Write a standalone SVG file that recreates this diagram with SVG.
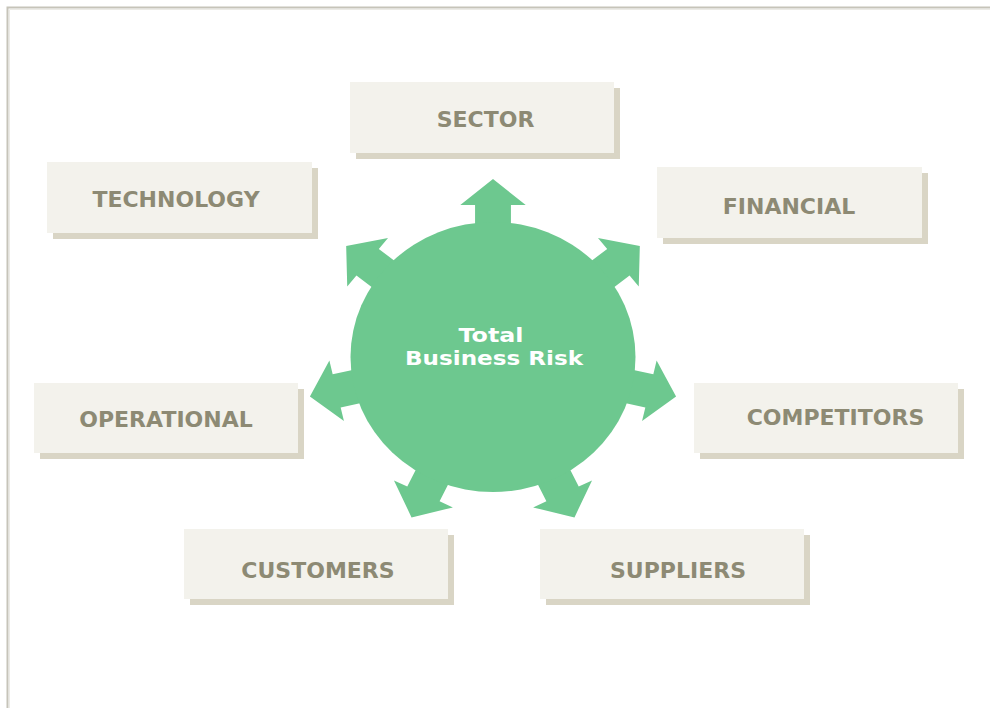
<svg xmlns="http://www.w3.org/2000/svg" width="990" height="708" viewBox="0 0 990 708">
  <style>
    .box { fill: #f3f2ec; }
    .shadow { fill: #d9d5c5; }
    .label { font-family: "DejaVu Sans", Verdana, sans-serif; font-weight: bold; font-size: 22px; fill: #8d8a74; text-anchor: middle; }
    .hub { fill: #6dc88f; }
    .hub-text { font-family: "DejaVu Sans", Tahoma, sans-serif; font-weight: bold; font-size: 20px; fill: #ffffff; text-anchor: middle; }
  </style>
  <defs>
    <!-- one outward arrow, pointing up from the hub centre -->
    <path id="spoke" d="M-17,-110 L-17,-152 L-31,-152 L0,-178 L31,-152 L17,-152 L17,-110 Z"/>
  </defs>

  <rect x="0" y="0" width="990" height="708" fill="#ffffff"/>
  <!-- frame -->
  <path d="M7.5,708 L7.5,7.5 L990,7.5" fill="none" stroke="#c6c4b9" stroke-width="2"/>
  <path d="M9.5,708 L9.5,9.5 L990,9.5" fill="none" stroke="#ecebe6" stroke-width="1"/>

  <!-- arrows radiating from the hub -->
  <g id="connectors" class="hub" transform="translate(493,357) scale(1.055,1)">
    <use href="#spoke" transform="rotate(0)"/>
    <use href="#spoke" transform="rotate(51.43)"/>
    <use href="#spoke" transform="rotate(102.86)"/>
    <use href="#spoke" transform="rotate(154.29)"/>
    <use href="#spoke" transform="rotate(205.71)"/>
    <use href="#spoke" transform="rotate(257.14)"/>
    <use href="#spoke" transform="rotate(308.57)"/>
  </g>

  <g id="hub">
    <ellipse class="hub" cx="493" cy="357" rx="142.5" ry="135"/>
    <text class="hub-text" x="491" y="342" textLength="65" lengthAdjust="spacingAndGlyphs">Total</text>
    <text class="hub-text" x="494" y="365" textLength="178" lengthAdjust="spacingAndGlyphs">Business Risk</text>
  </g>

  <g id="sector">
    <rect class="shadow" x="356" y="88" width="264" height="71"/>
    <rect class="box" x="350" y="82" width="264" height="71"/>
    <text class="label" x="485.5" y="127">SECTOR</text>
  </g>

  <g id="technology">
    <rect class="shadow" x="53" y="168" width="265" height="71"/>
    <rect class="box" x="47" y="162" width="265" height="71"/>
    <text class="label" x="176" y="207">TECHNOLOGY</text>
  </g>

  <g id="financial">
    <rect class="shadow" x="663" y="173" width="265" height="71"/>
    <rect class="box" x="657" y="167" width="265" height="71"/>
    <text class="label" x="789" y="214">FINANCIAL</text>
  </g>

  <g id="operational">
    <rect class="shadow" x="40" y="389" width="264" height="70"/>
    <rect class="box" x="34" y="383" width="264" height="70"/>
    <text class="label" x="166" y="427">OPERATIONAL</text>
  </g>

  <g id="competitors">
    <rect class="shadow" x="700" y="389" width="264" height="70"/>
    <rect class="box" x="694" y="383" width="264" height="70"/>
    <text class="label" x="835.5" y="425">COMPETITORS</text>
  </g>

  <g id="customers">
    <rect class="shadow" x="190" y="535" width="264" height="70"/>
    <rect class="box" x="184" y="529" width="264" height="70"/>
    <text class="label" x="318" y="578">CUSTOMERS</text>
  </g>

  <g id="suppliers">
    <rect class="shadow" x="546" y="535" width="264" height="70"/>
    <rect class="box" x="540" y="529" width="264" height="70"/>
    <text class="label" x="678" y="578">SUPPLIERS</text>
  </g>
</svg>
